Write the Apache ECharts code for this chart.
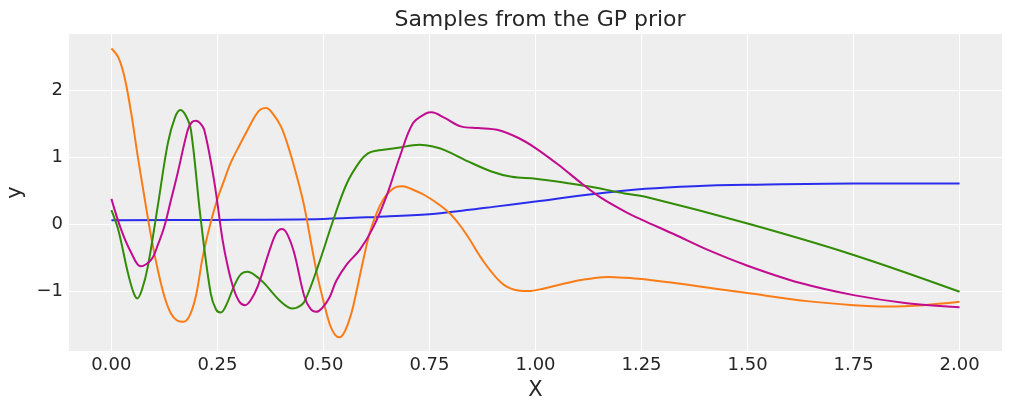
<!DOCTYPE html>
<html>
<head>
<meta charset="utf-8">
<script src="https://cdn.jsdelivr.net/npm/echarts@6/dist/echarts.min.js"></script>
<style>
  html, body { margin: 0; padding: 0; background: #fff; }
  #chart { width: 1011px; height: 411px; }
</style>
</head>
<body>
<div id="chart"></div>
<script>
// tick positions
var xTicks = [0, 0.25, 0.5, 0.75, 1, 1.25, 1.5, 1.75, 2];
var yTicks = [-1, 0, 1, 2];

// GP prior samples, [x, y]
var blueSample = [
  [0, 0.06], [0.25, 0.065], [0.5, 0.08], [0.625, 0.11], [0.75, 0.15], [0.85, 0.22],
  [0.9, 0.26], [1.0, 0.34], [1.133, 0.45], [1.259, 0.53], [1.374, 0.57], [1.5, 0.59],
  [1.75, 0.61], [2.0, 0.61]
];
var orangeSample = [
  [0, 2.63], [0.016, 2.5], [0.031, 2.2], [0.047, 1.65], [0.0625, 1.0], [0.078, 0.4],
  [0.094, -0.2], [0.11, -0.7], [0.125, -1.08], [0.14, -1.33], [0.155, -1.44], [0.17, -1.46],
  [0.185, -1.36], [0.2, -1.05], [0.215, -0.5], [0.233, 0.0], [0.25, 0.38], [0.266, 0.66],
  [0.28, 0.9], [0.297, 1.12], [0.321, 1.41], [0.34, 1.63], [0.352, 1.72], [0.365, 1.74],
  [0.38, 1.66], [0.40, 1.46], [0.42, 1.1], [0.44, 0.65], [0.455, 0.26], [0.47, -0.25],
  [0.485, -0.75], [0.5, -1.15], [0.515, -1.5], [0.527, -1.65], [0.5375, -1.69], [0.548, -1.63],
  [0.56, -1.45], [0.57, -1.23], [0.594, -0.53], [0.609, -0.13], [0.625, 0.16], [0.64, 0.36],
  [0.656, 0.49], [0.672, 0.56], [0.686, 0.57], [0.71, 0.52], [0.74, 0.43], [0.778, 0.27],
  [0.80, 0.15], [0.82, 0.0], [0.84, -0.18], [0.88, -0.58], [0.92, -0.88], [0.95, -0.98],
  [0.983, -1.0], [1.02, -0.96], [1.054, -0.91], [1.1, -0.84], [1.133, -0.81], [1.172, -0.79],
  [1.21, -0.8], [1.25, -0.82], [1.375, -0.92], [1.5, -1.03], [1.64, -1.15], [1.75, -1.21],
  [1.83, -1.23], [1.915, -1.21], [2.0, -1.16]
];
var greenSample = [
  [0, 0.21], [0.016, -0.08], [0.039, -0.73], [0.052, -1.02], [0.061, -1.11], [0.072, -0.98],
  [0.086, -0.63], [0.109, 0.26], [0.133, 1.21], [0.15, 1.6], [0.1625, 1.71], [0.175, 1.63],
  [0.1875, 1.41], [0.21, 0.11], [0.234, -1.03], [0.247, -1.28], [0.258, -1.32], [0.27, -1.22],
  [0.289, -0.93], [0.305, -0.75], [0.321, -0.71], [0.338, -0.76], [0.36, -0.88], [0.40, -1.16],
  [0.427, -1.26], [0.44, -1.24], [0.455, -1.16], [0.487, -0.63], [0.523, 0.06], [0.555, 0.61],
  [0.586, 0.94], [0.605, 1.06], [0.625, 1.10], [0.672, 1.14], [0.727, 1.19], [0.76, 1.16],
  [0.786, 1.11], [0.841, 0.94], [0.896, 0.79], [0.944, 0.71], [1.0, 0.68], [1.07, 0.62],
  [1.14, 0.55], [1.21, 0.46], [1.259, 0.41], [1.5, 0.01], [1.75, -0.46], [2.0, -1.01]
];
var magentaSample = [
  [0, 0.38], [0.023, -0.08], [0.047, -0.43], [0.069, -0.63], [0.094, -0.53], [0.11, -0.3],
  [0.125, -0.03], [0.14, 0.35], [0.156, 0.76], [0.18, 1.41], [0.19, 1.53], [0.199, 1.55],
  [0.208, 1.52], [0.219, 1.41], [0.242, 0.66], [0.262, -0.23], [0.275, -0.65], [0.289, -0.98],
  [0.302, -1.16], [0.315, -1.21], [0.328, -1.14], [0.345, -0.93], [0.376, -0.33], [0.39, -0.12],
  [0.402, -0.07], [0.414, -0.14], [0.431, -0.43], [0.455, -1.08], [0.47, -1.27], [0.483, -1.31],
  [0.496, -1.26], [0.514, -1.1], [0.53, -0.85], [0.555, -0.6], [0.586, -0.38], [0.617, -0.05],
  [0.648, 0.41], [0.68, 1.01], [0.711, 1.51], [0.742, 1.66], [0.755, 1.675], [0.786, 1.59],
  [0.826, 1.46], [0.865, 1.44], [0.912, 1.41], [0.96, 1.29], [1.0, 1.14], [1.054, 0.89],
  [1.109, 0.61], [1.156, 0.39], [1.211, 0.19], [1.25, 0.07], [1.327, -0.15], [1.405, -0.38],
  [1.5, -0.62], [1.625, -0.88], [1.75, -1.06], [1.876, -1.18], [2.0, -1.24]
];

var font = 'DejaVu Sans';
var textColor = '#262626';

function line(data, color) {
  return {
    type: 'line',
    data: data,
    smooth: 0.35,
    showSymbol: false,
    lineStyle: { color: color, width: 2 },
    itemStyle: { color: color }
  };
}

var chart = echarts.init(document.getElementById('chart'));
chart.setOption({
  backgroundColor: '#ffffff',
  animation: false,
  title: {
    text: 'Samples from the GP prior',
    left: 535, top: 4, textAlign: 'center',
    textStyle: { fontFamily: font, fontSize: 22, fontWeight: 'normal', color: textColor }
  },
  grid: {
    left: 69, right: 9, top: 34, bottom: 60,
    outerBoundsMode: 'none',
    show: true, backgroundColor: '#eeeeee', borderWidth: 0
  },
  xAxis: {
    type: 'value', min: -0.1, max: 2.1,
    name: 'X', nameLocation: 'middle', nameGap: 29,
    nameTextStyle: { fontFamily: font, fontSize: 21, color: textColor },
    axisLine: { show: false },
    axisTick: { show: false, customValues: xTicks },
    axisLabel: {
      customValues: xTicks, margin: 5,
      fontFamily: font, fontSize: 18, color: textColor,
      formatter: function (v) { return v.toFixed(2); }
    },
    splitLine: { show: true, lineStyle: { color: '#ffffff', width: 1 } }
  },
  yAxis: {
    type: 'value', min: -1.896, max: 2.846,
    name: 'y', nameLocation: 'middle', nameGap: 38,
    nameTextStyle: { fontFamily: font, fontSize: 21, color: textColor },
    axisLine: { show: false },
    axisTick: { show: false, customValues: yTicks },
    axisLabel: {
      customValues: yTicks, margin: 6,
      fontFamily: font, fontSize: 18, color: textColor,
      formatter: function (v) { return v < 0 ? '\u2212' + Math.abs(v) : String(v); }
    },
    splitLine: { show: true, lineStyle: { color: '#ffffff', width: 1 } }
  },
  series: [
    line(blueSample, '#2a2eec'),
    line(orangeSample, '#fa7c17'),
    line(greenSample, '#328c06'),
    line(magentaSample, '#c10c90')
  ]
});
</script>
</body>
</html>
